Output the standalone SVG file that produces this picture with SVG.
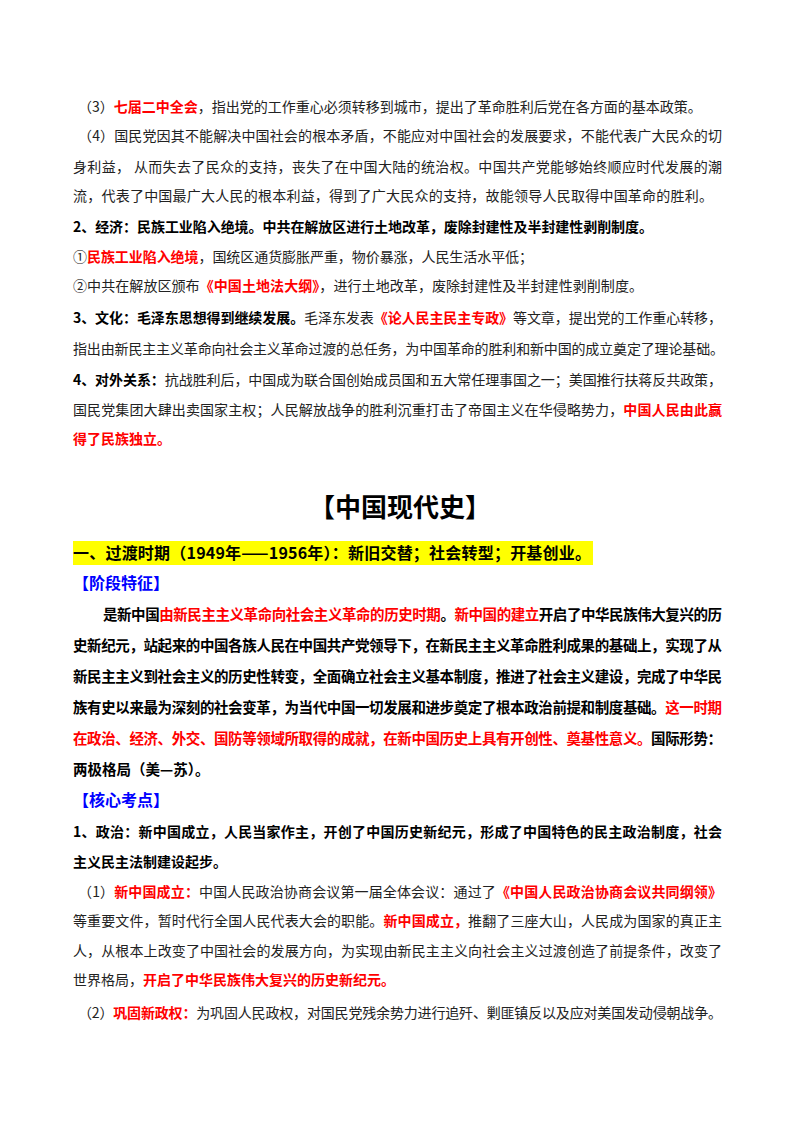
<svg xmlns="http://www.w3.org/2000/svg" width="800" height="1132" viewBox="0 0 800 1132">
<style>
text{font-family:"Noto Sans CJK SC","Liberation Serif",sans-serif;font-size:14px;fill:#222}
.b{font-weight:bold;fill:#000}
.r{fill:#ff0000;font-weight:bold}
.bl{fill:#0000ff;font-weight:bold;font-size:16px}
.p{font-weight:bold;fill:#000;font-size:14.5px}
</style>
<rect width="800" height="1132" fill="#fff"/>
<text x="78" y="112">（3）<tspan class="r">七届二中全会</tspan>，指出党的工作重心必须转移到城市，提出了革命胜利后党在各方面的基本政策。</text>
<text x="78" y="141" textLength="644" lengthAdjust="spacing">（4）国民党因其不能解决中国社会的根本矛盾，不能应对中国社会的发展要求，不能代表广大民众的切</text>
<text x="73" y="172" textLength="649" lengthAdjust="spacing">身利益， 从而失去了民众的支持，丧失了在中国大陆的统治权。中国共产党能够始终顺应时代发展的潮</text>
<text x="73" y="201" textLength="640" lengthAdjust="spacing">流，代表了中国最广大人民的根本利益，得到了广大民众的支持，故能领导人民取得中国革命的胜利。</text>
<text x="73" y="232" class="b" textLength="580" lengthAdjust="spacing">2、经济：民族工业陷入绝境。中共在解放区进行土地改革，废除封建性及半封建性剥削制度。</text>
<text x="73" y="262" textLength="460" lengthAdjust="spacing">①<tspan class="r">民族工业陷入绝境</tspan>，国统区通货膨胀严重，物价暴涨，人民生活水平低；</text>
<text x="73" y="291" textLength="570" lengthAdjust="spacing">②中共在解放区颁布<tspan class="r">《中国土地法大纲》</tspan>，进行土地改革，废除封建性及半封建性剥削制度。</text>
<text x="73" y="323" textLength="649" lengthAdjust="spacing"><tspan class="b">3、文化：毛泽东思想得到继续发展。</tspan>毛泽东发表<tspan class="r">《论人民主民主专政》</tspan>等文章，提出党的工作重心转移，</text>
<text x="73" y="354" textLength="651" lengthAdjust="spacing">指出由新民主主义革命向社会主义革命过渡的总任务，为中国革命的胜利和新中国的成立奠定了理论基础。</text>
<text x="73" y="385" textLength="649" lengthAdjust="spacing"><tspan class="b">4、对外关系：</tspan>抗战胜利后，中国成为联合国创始成员国和五大常任理事国之一；美国推行扶蒋反共政策，</text>
<text x="73" y="415" textLength="649" lengthAdjust="spacing">国民党集团大肆出卖国家主权；人民解放战争的胜利沉重打击了帝国主义在华侵略势力，<tspan class="r">中国人民由此赢</tspan></text>
<text x="73" y="444" class="r">得了民族独立。</text>
<text x="400" y="517" class="b" style="font-size:26px" text-anchor="middle">【中国现代史】</text>
<rect x="73" y="541" width="520" height="24" fill="#ffff00"/>
<text x="73" y="559" class="b" style="font-size:16px" textLength="518" lengthAdjust="spacing">一、过渡时期（1949年——1956年）：新旧交替；社会转型；开基创业。</text>
<text x="73" y="589" class="bl">【阶段特征】</text>
<text x="103" y="620" class="p" textLength="619" lengthAdjust="spacing">是新中国<tspan class="r">由新民主主义革命向社会主义革命的历史时期</tspan>。<tspan class="r">新中国的建立</tspan>开启了中华民族伟大复兴的历</text>
<text x="73" y="651" class="p" textLength="649" lengthAdjust="spacing">史新纪元，站起来的中国各族人民在中国共产党领导下，在新民主主义革命胜利成果的基础上，实现了从</text>
<text x="73" y="682" class="p" textLength="649" lengthAdjust="spacing">新民主主义到社会主义的历史性转变，全面确立社会主义基本制度，推进了社会主义建设，完成了中华民</text>
<text x="73" y="713" class="p" textLength="649" lengthAdjust="spacing">族有史以来最为深刻的社会变革，为当代中国一切发展和进步奠定了根本政治前提和制度基础。<tspan class="r">这一时期</tspan></text>
<text x="73" y="744" class="p" textLength="649" lengthAdjust="spacing"><tspan class="r">在政治、经济、外交、国防等领域所取得的成就，在新中国历史上具有开创性、奠基性意义。</tspan>国际形势：</text>
<text x="73" y="775" class="p">两极格局（美—苏）。</text>
<text x="73" y="806" class="bl">【核心考点】</text>
<text x="73" y="837" class="b" textLength="649" lengthAdjust="spacing">1、政治：新中国成立，人民当家作主，开创了中国历史新纪元，形成了中国特色的民主政治制度，社会</text>
<text x="73" y="867" class="b">主义民主法制建设起步。</text>
<text x="78" y="897" textLength="644" lengthAdjust="spacing">（1）<tspan class="r">新中国成立：</tspan>中国人民政治协商会议第一届全体会议：通过了<tspan class="r">《中国人民政治协商会议共同纲领》</tspan></text>
<text x="73" y="926" textLength="649" lengthAdjust="spacing">等重要文件，暂时代行全国人民代表大会的职能。<tspan class="r">新中国成立，</tspan>推翻了三座大山，人民成为国家的真正主</text>
<text x="73" y="956" textLength="649" lengthAdjust="spacing">人，从根本上改变了中国社会的发展方向，为实现由新民主主义向社会主义过渡创造了前提条件，改变了</text>
<text x="73" y="985">世界格局，<tspan class="r">开启了中华民族伟大复兴的历史新纪元。</tspan></text>
<text x="78" y="1018" textLength="644" lengthAdjust="spacing">（2）<tspan class="r">巩固新政权：</tspan>为巩固人民政权，对国民党残余势力进行追歼、剿匪镇反以及应对美国发动侵朝战争。</text>
</svg>
